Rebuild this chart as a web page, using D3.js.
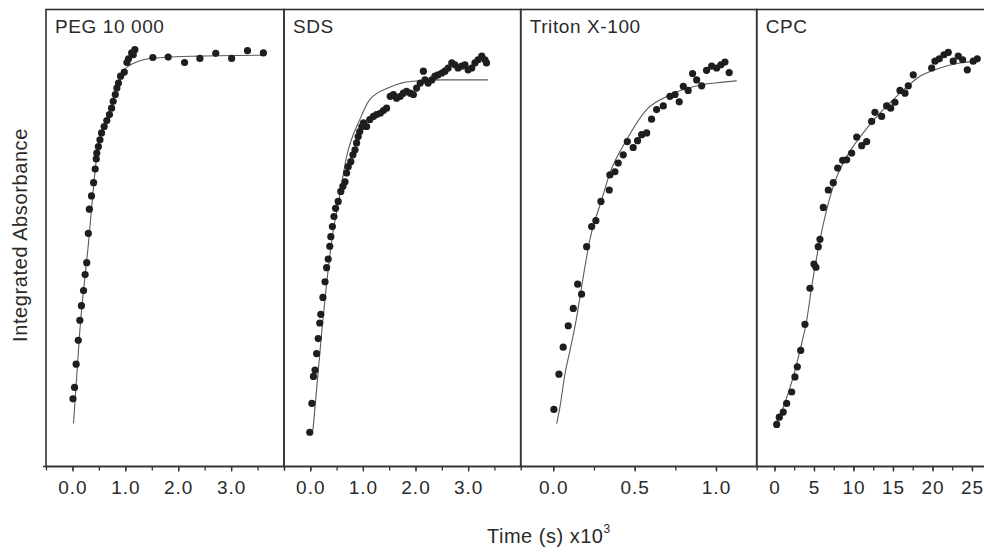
<!DOCTYPE html>
<html>
<head>
<meta charset="utf-8">
<script src="https://cdn.jsdelivr.net/npm/d3@7/dist/d3.min.js"></script>
<style>
body { margin: 0; background: #fff; }
text { font-family: "Liberation Sans", Arial, sans-serif; fill: #2a2a2a; }
</style>
</head>
<body>
<svg id="chart" width="984" height="556"></svg>
<script>
// surfactant names, one per panel
var surfactants = ["PEG 10 000", "SDS", "Triton X-100", "CPC"];

// PEG 10 000 : time (x10^3 s) and integrated absorbance (arb. units)
var pegT = [0.01, 0.04, 0.07, 0.11, 0.14, 0.17, 0.21, 0.24, 0.27, 0.30, 0.32, 0.36, 0.40, 0.43, 0.45, 0.46,
            0.49, 0.52, 0.55, 0.60, 0.65, 0.70, 0.74, 0.77, 0.81, 0.84, 0.87, 0.91, 0.98, 1.03, 1.06, 1.12,
            1.18, 1.15, 1.52, 1.81, 2.12, 2.41, 2.71, 3.01, 3.31, 3.61];
var pegA = [14.8, 17.3, 22.4, 27.6, 32.0, 35.2, 38.5, 42.0, 44.6, 51.0, 56.3, 59.2, 62.1, 65.1, 67.3, 68.6,
            70.0, 71.5, 73.0, 74.4, 75.7, 77.0, 78.4, 79.9, 81.4, 82.8, 83.9, 85.4, 86.3, 88.4, 89.2, 90.5,
            91.2, 90.1, 89.5, 89.6, 88.4, 89.3, 90.4, 89.3, 91.0, 90.5];
var pegFitT = [0.02, 0.14, 0.30, 0.46, 0.71, 0.90, 0.98, 1.06, 1.15, 1.34, 1.59, 2.41, 3.61];
var pegFitA = [9.4, 29.8, 48.5, 67.8, 78.1, 84.6, 86.8, 87.6, 88.2, 89.0, 89.4, 89.8, 90.0];

// SDS
var sdsT = [-0.01, 0.03, 0.06, 0.09, 0.12, 0.15, 0.18, 0.20, 0.24, 0.28, 0.31, 0.34, 0.37, 0.39, 0.42, 0.45,
            0.48, 0.53, 0.58, 0.62, 0.66, 0.69, 0.72, 0.77, 0.81, 0.85, 0.88, 0.91, 0.94, 0.98, 1.01, 1.07,
            1.13, 1.20, 1.26, 1.33, 1.39, 1.45, 1.52, 1.58, 1.64, 1.71, 1.77, 1.83, 1.90, 1.96, 2.02, 2.09,
            2.15, 2.18, 2.24, 2.31, 2.37, 2.43, 2.50, 2.56, 2.62, 2.69, 2.75, 2.81, 2.88, 2.94, 3.00, 3.07,
            3.13, 3.19, 3.26, 3.32, 3.35];
var sdsA = [7.5, 13.8, 19.7, 21.1, 24.7, 28.0, 31.4, 33.3, 37.0, 40.4, 43.5, 45.4, 48.2, 50.3, 52.5, 54.7,
            56.5, 58.0, 60.2, 61.3, 62.3, 64.2, 65.6, 66.7, 68.2, 69.3, 70.8, 72.2, 73.3, 74.4, 75.2, 74.4,
            75.9, 76.6, 77.0, 77.3, 77.9, 78.4, 81.0, 81.4, 80.6, 81.0, 81.7, 82.1, 81.7, 81.4, 82.8, 83.9,
            86.5, 84.6, 83.9, 84.6, 85.4, 85.7, 86.1, 86.5, 87.2, 88.3, 87.9, 87.2, 87.6, 87.9, 86.8, 87.2,
            88.3, 89.0, 89.8, 89.0, 88.3];
var sdsFitT = [0.05, 0.22, 0.41, 0.56, 0.69, 0.94, 1.13, 1.51, 1.77, 2.09, 2.52, 3.38];
var sdsFitA = [7.9, 29.8, 49.6, 59.4, 67.8, 75.9, 80.3, 83.0, 84.0, 84.4, 84.6, 84.6];

// Triton X-100
var tritonT = [0.004, 0.035, 0.061, 0.092, 0.123, 0.150, 0.174, 0.205, 0.236, 0.262, 0.293, 0.344, 0.348,
               0.379, 0.399, 0.430, 0.455, 0.491, 0.518, 0.543, 0.574, 0.604, 0.635, 0.676, 0.717, 0.748,
               0.774, 0.799, 0.829, 0.856, 0.881, 0.912, 0.942, 0.973, 1.004, 1.030, 1.055, 1.081];
var tritonA = [12.5, 20.2, 26.1, 30.8, 34.6, 39.9, 37.7, 48.1, 52.5, 53.8, 58.0, 60.5, 63.8,
               64.5, 66.4, 68.2, 71.1, 69.8, 71.3, 72.6, 73.0, 76.0, 78.1, 78.9, 81.0, 81.4,
               79.8, 83.2, 82.3, 86.0, 84.6, 83.3, 86.7, 87.6, 87.2, 87.9, 88.5, 86.2];
var tritonFitT = [0.021, 0.041, 0.072, 0.103, 0.144, 0.174, 0.225, 0.297, 0.348, 0.451, 0.574, 0.676,
                  0.799, 0.921, 1.044, 1.127];
var tritonFitA = [9.4, 13.0, 20.3, 25.4, 32.7, 39.3, 49.6, 58.3, 64.2, 71.5, 78.1, 80.6,
                  82.5, 83.6, 84.1, 84.4];

// CPC
var cpcT = [0.28, 0.61, 1.11, 1.54, 2.18, 2.59, 2.89, 3.32, 3.86, 4.49, 5.00, 5.25, 5.54, 5.76, 6.18, 6.81,
            7.44, 8.00, 8.63, 9.14, 9.77, 10.41, 11.04, 11.67, 12.30, 12.72, 13.57, 14.20, 14.71, 15.25,
            15.89, 16.52, 16.94, 17.57, 19.90, 20.32, 20.86, 21.46, 22.00, 22.63, 23.27, 23.82, 24.41,
            25.16, 25.67];
var cpcA = [9.2, 10.8, 11.9, 13.8, 16.3, 19.6, 21.8, 25.4, 31.1, 39.0, 44.3, 43.6, 48.1, 49.7, 56.7, 60.5,
            62.1, 65.3, 67.0, 67.1, 68.6, 72.1, 70.2, 71.1, 75.5, 77.5, 76.6, 78.9, 78.4, 79.7,
            82.3, 81.7, 83.3, 85.7, 87.2, 88.7, 89.2, 90.1, 90.6, 88.7, 89.8, 89.0, 86.8,
            88.7, 89.2];
var cpcFitT = [0.06, 1.11, 2.38, 3.23, 4.08, 4.71, 5.76, 7.44, 9.14, 11.24, 13.35, 15.89, 18.42, 20.95,
               23.48, 25.59];
var cpcFitA = [9.0, 13.0, 19.6, 25.4, 32.0, 39.3, 49.6, 61.3, 67.8, 73.0, 77.3, 81.7, 85.4, 87.2,
               88.3, 88.7];

// tick labels of each panel (major) and minor tick steps
var pegTicks = [0, 1, 2, 3];
var sdsTicks = [0, 1, 2, 3];
var tritonTicks = [0, 0.5, 1.0];
var cpcTicks = [0, 5, 10, 15, 20, 25];

var svg = d3.select("#chart");
var top_ = 9.5, bottom = 466.5;

var y = d3.scaleLinear().domain([0, 100]).range([bottom, top_]);

// each panel gets its own x scale, they sit side by side
var panels = [
    {name: surfactants[0], t: pegT, a: pegA, ft: pegFitT, fa: pegFitA, dom: [-0.5, 4], rng: [46, 284],
     ticks: pegTicks, minor: d3.range(-0.5, 4.01, 0.5), fmt: d3.format(".1f")},
    {name: surfactants[1], t: sdsT, a: sdsA, ft: sdsFitT, fa: sdsFitA, dom: [-0.5, 4], rng: [284, 520.7],
     ticks: sdsTicks, minor: d3.range(-0.5, 4.01, 0.5), fmt: d3.format(".1f")},
    {name: surfactants[2], t: tritonT, a: tritonA, ft: tritonFitT, fa: tritonFitA, dom: [-0.2, 1.25], rng: [520.7, 756.7],
     ticks: tritonTicks, minor: d3.range(-0.25, 1.26, 0.25), fmt: d3.format(".1f")},
    {name: surfactants[3], t: cpcT, a: cpcA, ft: cpcFitT, fa: cpcFitA, dom: [-2.25, 28.55], rng: [756.7, 1000],
     ticks: cpcTicks, minor: d3.range(-2.5, 28.6, 2.5), fmt: d3.format("d")}
];

panels.forEach(function(p) {
    var x = d3.scaleLinear().domain(p.dom).range(p.rng);
    var g = svg.append("g");

    // frame of the panel
    g.append("rect")
        .attr("x", p.rng[0]).attr("y", top_)
        .attr("width", p.rng[1] - p.rng[0]).attr("height", bottom - top_)
        .attr("fill", "none").attr("stroke", "#333").attr("stroke-width", 1.6);

    // minor ticks (unlabelled)
    var minorAxis = d3.axisBottom(x)
        .tickValues(p.minor.filter(function(v){ return v >= p.dom[0] - 1e-9 && v <= p.dom[1] + 1e-9 }))
        .tickSize(4).tickFormat("");
    g.append("g").attr("transform", "translate(0," + bottom + ")").call(minorAxis)
        .call(function(s){ s.select(".domain").remove(); })
        .selectAll("line").attr("stroke", "#333").attr("stroke-width", 1.3);

    // labelled ticks
    var axis = d3.axisBottom(x).tickValues(p.ticks).tickSize(5).tickPadding(9).tickFormat(p.fmt);
    var ax = g.append("g").attr("transform", "translate(0," + bottom + ")").call(axis);
    ax.select(".domain").remove();
    ax.selectAll("line").attr("stroke", "#333").attr("stroke-width", 1.3);
    ax.selectAll("text")
        .attr("font-size", 19).attr("letter-spacing", 1)
        .attr("font-family", "Liberation Sans, Arial, sans-serif").attr("fill", "#2a2a2a");

    // fitted curve
    var pts = p.ft.map(function(d, i){ return [d, p.fa[i]] });
    g.append("path")
        .datum(pts)
        .attr("d", d3.line().x(function(d){ return x(d[0]) }).y(function(d){ return y(d[1]) })
            .curve(d3.curveMonotoneX))
        .attr("fill", "none").attr("stroke", "#5a5a5a").attr("stroke-width", 1.1);

    // measured points
    g.selectAll("circle").data(p.t).enter().append("circle")
        .attr("cx", function(d){ return x(d) })
        .attr("cy", function(d, i){ return y(p.a[i]) })
        .attr("r", 3.6)
        .attr("fill", "#1e1e1e");

    g.append("text")
        .attr("x", p.rng[0] + 9).attr("y", 33)
        .attr("font-size", 19).attr("letter-spacing", 0.6)
        .text(p.name);
});

// axis lines across the whole figure
svg.append("line").attr("x1", 43).attr("x2", 984).attr("y1", bottom).attr("y2", bottom)
    .attr("stroke", "#333").attr("stroke-width", 1.6);

svg.append("text")
    .attr("transform", "translate(27,235) rotate(-90)")
    .attr("text-anchor", "middle")
    .attr("font-size", 20).attr("letter-spacing", 0.6)
    .text("Integrated Absorbance");

var xl = svg.append("text")
    .attr("x", 487).attr("y", 543)
    .attr("font-size", 20).attr("letter-spacing", 0.5);
xl.append("tspan").text("Time (s) x10");
xl.append("tspan").attr("font-size", 12).attr("dy", -10).text("3");
</script>
</body>
</html>
